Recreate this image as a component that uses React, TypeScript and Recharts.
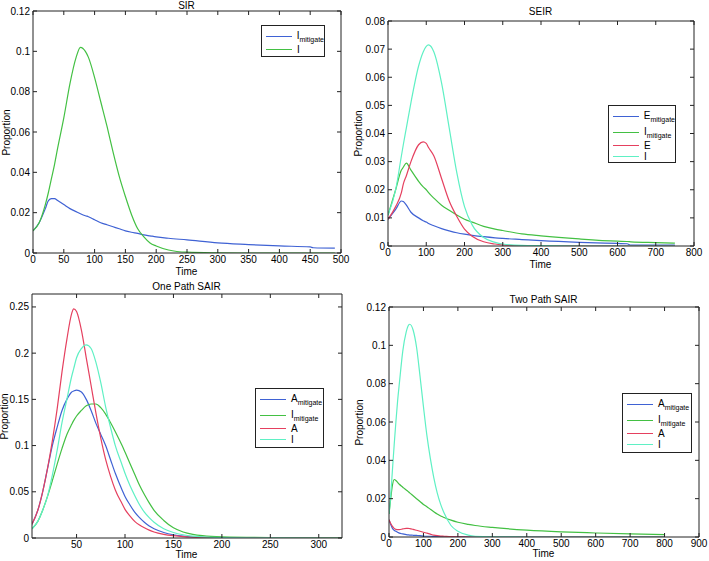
import React from "react";
import { LineChart, Line, XAxis, YAxis } from "recharts";

const BLUE = "#3f62d4";
const GREEN = "#43c043";
const RED = "#e5405f";
const CYAN = "#5ff0c4";
const AXIS = "#222";

// SIR
const sirTime = [0, 10, 20, 25, 30, 35, 40, 50, 60, 70, 77, 85, 90, 100, 110, 120, 130, 140, 150, 160, 170, 180, 190, 200, 220, 250, 300, 350, 400, 450, 455, 490];
const sirIMitigate = [0.011, 0.015, 0.022, 0.026, 0.027, 0.027, 0.026, 0.024, 0.022, 0.0205, 0.0195, 0.0185, 0.018, 0.0165, 0.015, 0.014, 0.013, 0.012, 0.011, 0.0103, 0.0097, 0.009, 0.0085, 0.008, 0.0073, 0.0065, 0.005, 0.0042, 0.0035, 0.003, 0.0026, 0.0024];
const sirI = [0.011, 0.015, 0.024, 0.03, 0.037, 0.044, 0.052, 0.067, 0.084, 0.097, 0.102, 0.1, 0.097, 0.087, 0.075, 0.063, 0.05, 0.038, 0.028, 0.019, 0.012, 0.008, 0.005, 0.0035, 0.0015, 0.0004, 0.0001, 0, 0, 0, 0, 0];

// SEIR
const seirTime = [0, 20, 35, 40, 48, 60, 80, 92, 100, 106, 120, 140, 160, 180, 200, 220, 250, 280, 300, 350, 400, 500, 600, 625, 635, 700, 750];
const seirEMitigate = [0.0095, 0.013, 0.016, 0.0158, 0.0145, 0.012, 0.01, 0.009, 0.0085, 0.008, 0.0072, 0.0062, 0.0054, 0.0047, 0.0042, 0.0038, 0.0033, 0.0029, 0.0027, 0.0023, 0.0019, 0.0013, 0.0009, 0.0008, 0.0003, 0.0003, 0.0003];
const seirIMitigate = [0.011, 0.02, 0.027, 0.028, 0.0295, 0.027, 0.023, 0.021, 0.02, 0.019, 0.017, 0.0145, 0.0127, 0.011, 0.0095, 0.0085, 0.007, 0.006, 0.0055, 0.0043, 0.0036, 0.0025, 0.0017, 0.0016, 0.0015, 0.0012, 0.001];
const seirE = [0.0095, 0.014, 0.019, 0.022, 0.025, 0.03, 0.036, 0.037, 0.0365, 0.035, 0.032, 0.024, 0.016, 0.0105, 0.006, 0.0035, 0.0015, 0.0007, 0.0004, 0.0001, 0, 0, 0, 0, 0, 0, 0];
const seirI = [0.011, 0.02, 0.032, 0.036, 0.042, 0.051, 0.064, 0.069, 0.071, 0.0715, 0.069, 0.058, 0.042, 0.026, 0.014, 0.0075, 0.003, 0.0013, 0.0007, 0.0002, 0.0001, 0, 0, 0, 0, 0, 0];

// One Path SAIR
const oneTime = [4, 10, 15, 20, 25, 30, 35, 40, 45, 47, 50, 55, 60, 65, 70, 75, 80, 85, 90, 97, 100, 105, 110, 115, 120, 125, 130, 140, 150, 160, 170, 180, 200, 250, 324];
const oneAMitigate = [0.015, 0.03, 0.05, 0.075, 0.1, 0.12, 0.138, 0.15, 0.158, 0.159, 0.16, 0.158, 0.15, 0.138, 0.124, 0.112, 0.1, 0.085, 0.07, 0.052, 0.045, 0.036, 0.028, 0.022, 0.017, 0.013, 0.01, 0.006, 0.0035, 0.002, 0.0012, 0.0008, 0.0003, 0.0001, 0];
const oneIMitigate = [0.01, 0.018, 0.03, 0.045, 0.062, 0.08, 0.097, 0.112, 0.123, 0.127, 0.132, 0.138, 0.143, 0.145, 0.145, 0.141, 0.134, 0.125, 0.115, 0.1, 0.093, 0.081, 0.069, 0.057, 0.047, 0.038, 0.03, 0.019, 0.011, 0.0065, 0.004, 0.0025, 0.0012, 0.0005, 0.0003];
const oneA = [0.015, 0.03, 0.05, 0.075, 0.105, 0.14, 0.18, 0.215, 0.243, 0.248, 0.245, 0.225, 0.195, 0.165, 0.135, 0.108, 0.085, 0.067, 0.052, 0.037, 0.031, 0.024, 0.018, 0.014, 0.011, 0.0085, 0.0065, 0.004, 0.0025, 0.0015, 0.001, 0.0006, 0.0003, 0.0001, 0];
const oneI = [0.01, 0.018, 0.03, 0.045, 0.068, 0.095, 0.125, 0.15, 0.175, 0.183, 0.195, 0.205, 0.209, 0.205, 0.19, 0.168, 0.142, 0.12, 0.1, 0.079, 0.07, 0.057, 0.046, 0.036, 0.028, 0.022, 0.017, 0.01, 0.006, 0.0035, 0.002, 0.0012, 0.0005, 0.0001, 0];

// Two Path SAIR
const twoTime = [0, 5, 10, 15, 20, 25, 30, 40, 50, 55, 60, 70, 80, 90, 100, 110, 120, 130, 140, 150, 160, 180, 200, 230, 250, 300, 400, 500, 600, 700, 800];
const twoAMitigate = [0.009, 0.0065, 0.0045, 0.0035, 0.003, 0.0025, 0.002, 0.0016, 0.0012, 0.0011, 0.001, 0.0009, 0.0008, 0.0007, 0.0005, 0.0004, 0.0004, 0.0003, 0.0002, 0.0002, 0.0001, 0.0001, 0.0001, 0, 0, 0, 0, 0, 0, 0, 0];
const twoIMitigate = [0.012, 0.02, 0.027, 0.03, 0.0295, 0.0285, 0.0275, 0.026, 0.0245, 0.0238, 0.023, 0.0215, 0.02, 0.0185, 0.017, 0.0158, 0.0145, 0.0132, 0.012, 0.011, 0.0102, 0.0088, 0.0077, 0.0066, 0.006, 0.005, 0.0036, 0.0027, 0.0021, 0.0016, 0.0012];
const twoA = [0.009, 0.007, 0.0055, 0.0045, 0.004, 0.0038, 0.0038, 0.0042, 0.0045, 0.0045, 0.0044, 0.004, 0.0035, 0.003, 0.0025, 0.002, 0.0015, 0.001, 0.0007, 0.0005, 0.0004, 0.0002, 0.0001, 0, 0, 0, 0, 0, 0, 0, 0];
const twoI = [0.012, 0.022, 0.035, 0.048, 0.06, 0.071, 0.08, 0.097, 0.107, 0.11, 0.111, 0.108, 0.099, 0.084, 0.068, 0.053, 0.041, 0.031, 0.023, 0.017, 0.0125, 0.006, 0.003, 0.001, 0.0004, 0.0001, 0, 0, 0, 0, 0];

type Series = { key: string; main: string; sub?: string; color: string; values: number[] };

type PanelProps = {
  title: string;
  time: number[];
  series: Series[];
  xDomain: [number, number];
  xTicks: number[];
  yDomain: [number, number];
  yTicks: number[];
  box: [number, number, number, number];
  titleY: number;
  timeY: number;
  propX: number;
  legend: [number, number, number, number];
};

const blank = () => "";

const Panel = (p: PanelProps) => {
  const [x0, y0, x1, y1] = p.box;
  const L = x0 - 40;
  const T = y0 - 10;
  const W = x1 - L + 12;
  const H = y1 + 20 - T;
  const data = p.time.map((t, i) => {
    const row: Record<string, number> = { t };
    p.series.forEach((s) => (row[s.key] = s.values[i]));
    return row;
  });
  const [lx, ly, lw, lh] = p.legend;
  const cx = (x0 + x1) / 2;
  const cy = (y0 + y1) / 2;
  return (
    <>
      <div style={{ position: "absolute", left: L, top: T }}>
        <LineChart width={W} height={H} data={data} margin={{ top: 9, right: 11, bottom: 0, left: 0 }}>
          <XAxis xAxisId="b" dataKey="t" type="number" domain={p.xDomain} ticks={p.xTicks} interval={0}
            allowDataOverflow height={20} tickSize={-4} tickMargin={7} stroke={AXIS}
            tick={{ fill: "#000", fontSize: 10 }} />
          <XAxis xAxisId="top" orientation="top" dataKey="t" type="number" domain={p.xDomain} ticks={p.xTicks}
            interval={0} allowDataOverflow height={1} mirror tickFormatter={blank} tickSize={4} stroke={AXIS} />
          <YAxis yAxisId="l" type="number" domain={p.yDomain} ticks={p.yTicks} interval={0} allowDataOverflow
            width={40} tickSize={-4} tickMargin={7} stroke={AXIS} tick={{ fill: "#000", fontSize: 10 }} />
          <YAxis yAxisId="r" orientation="right" type="number" domain={p.yDomain} ticks={p.yTicks} interval={0}
            allowDataOverflow width={1} mirror tickFormatter={blank} tickSize={4} stroke={AXIS} />
          {p.series.map((s) => (
            <Line key={s.key} xAxisId="b" yAxisId="l" dataKey={s.key} type="monotone" stroke={s.color}
              strokeWidth={1.2} dot={false} isAnimationActive={false} />
          ))}
        </LineChart>
      </div>
      <div style={{ position: "absolute", left: cx - 60, width: 120, top: p.titleY - 6, textAlign: "center", fontSize: 10 }}>
        {p.title}
      </div>
      <div style={{ position: "absolute", left: cx - 40, width: 80, top: p.timeY - 6, textAlign: "center", fontSize: 10 }}>
        Time
      </div>
      <div style={{ position: "absolute", left: p.propX - 40, top: cy - 6, width: 80, textAlign: "center",
        fontSize: 10, transform: "rotate(-90deg)" }}>
        Proportion
      </div>
      <div style={{ position: "absolute", left: lx, top: ly, width: lw, height: lh, boxSizing: "border-box",
        border: "1px solid #222", background: "#fff", paddingTop: 2 }}>
        {p.series.map((s) => (
          <div key={s.key} style={{ display: "flex", alignItems: "center", height: s.sub ? 16 : 11 }}>
            <span style={{ marginLeft: 4, width: 26, borderTop: `1px solid ${s.color}` }} />
            <span style={{ marginLeft: 5, fontSize: 10, whiteSpace: "nowrap" }}>
              {s.main}
              {s.sub && <sub style={{ fontSize: 7, verticalAlign: "-3px" }}>{s.sub}</sub>}
            </span>
          </div>
        ))}
      </div>
    </>
  );
};

export default function App() {
  return (
    <div style={{ position: "absolute", left: 0, top: 0, width: 709, height: 561, background: "#fff",
      fontFamily: "'Liberation Sans', Arial, sans-serif", color: "#000", overflow: "hidden" }}>
      <Panel title="SIR" time={sirTime}
        series={[
          { key: "im", main: "I", sub: "mitigate", color: BLUE, values: sirIMitigate },
          { key: "i", main: "I", color: GREEN, values: sirI },
        ]}
        xDomain={[0, 500]} xTicks={[0, 50, 100, 150, 200, 250, 300, 350, 400, 450, 500]}
        yDomain={[0, 0.12]} yTicks={[0, 0.02, 0.04, 0.06, 0.08, 0.1, 0.12]}
        box={[33, 12, 340, 253]} titleY={6} timeY={272} propX={6} legend={[261, 25, 64, 32]} />
      <Panel title="SEIR" time={seirTime}
        series={[
          { key: "em", main: "E", sub: "mitigate", color: BLUE, values: seirEMitigate },
          { key: "im", main: "I", sub: "mitigate", color: GREEN, values: seirIMitigate },
          { key: "e", main: "E", color: RED, values: seirE },
          { key: "i", main: "I", color: CYAN, values: seirI },
        ]}
        xDomain={[0, 800]} xTicks={[0, 100, 200, 300, 400, 500, 600, 700, 800]}
        yDomain={[0, 0.08]} yTicks={[0, 0.01, 0.02, 0.03, 0.04, 0.05, 0.06, 0.07, 0.08]}
        box={[388, 22, 693, 246]} titleY={12} timeY={265} propX={358} legend={[608, 105, 68, 58]} />
      <Panel title="One Path SAIR" time={oneTime}
        series={[
          { key: "am", main: "A", sub: "mitigate", color: BLUE, values: oneAMitigate },
          { key: "im", main: "I", sub: "mitigate", color: GREEN, values: oneIMitigate },
          { key: "a", main: "A", color: RED, values: oneA },
          { key: "i", main: "I", color: CYAN, values: oneI },
        ]}
        xDomain={[4, 324]} xTicks={[50, 100, 150, 200, 250, 300]}
        yDomain={[0, 0.264]} yTicks={[0, 0.05, 0.1, 0.15, 0.2, 0.25]}
        box={[32, 295, 341, 538]} titleY={287} timeY={555} propX={4} legend={[255, 388, 69, 60]} />
      <Panel title="Two Path SAIR" time={twoTime}
        series={[
          { key: "am", main: "A", sub: "mitigate", color: BLUE, values: twoAMitigate },
          { key: "im", main: "I", sub: "mitigate", color: GREEN, values: twoIMitigate },
          { key: "a", main: "A", color: RED, values: twoA },
          { key: "i", main: "I", color: CYAN, values: twoI },
        ]}
        xDomain={[0, 900]} xTicks={[0, 100, 200, 300, 400, 500, 600, 700, 800, 900]}
        yDomain={[0, 0.12]} yTicks={[0, 0.02, 0.04, 0.06, 0.08, 0.1, 0.12]}
        box={[389, 308, 698, 537]} titleY={300} timeY={554} propX={359} legend={[622, 393, 70, 60]} />
    </div>
  );
}
